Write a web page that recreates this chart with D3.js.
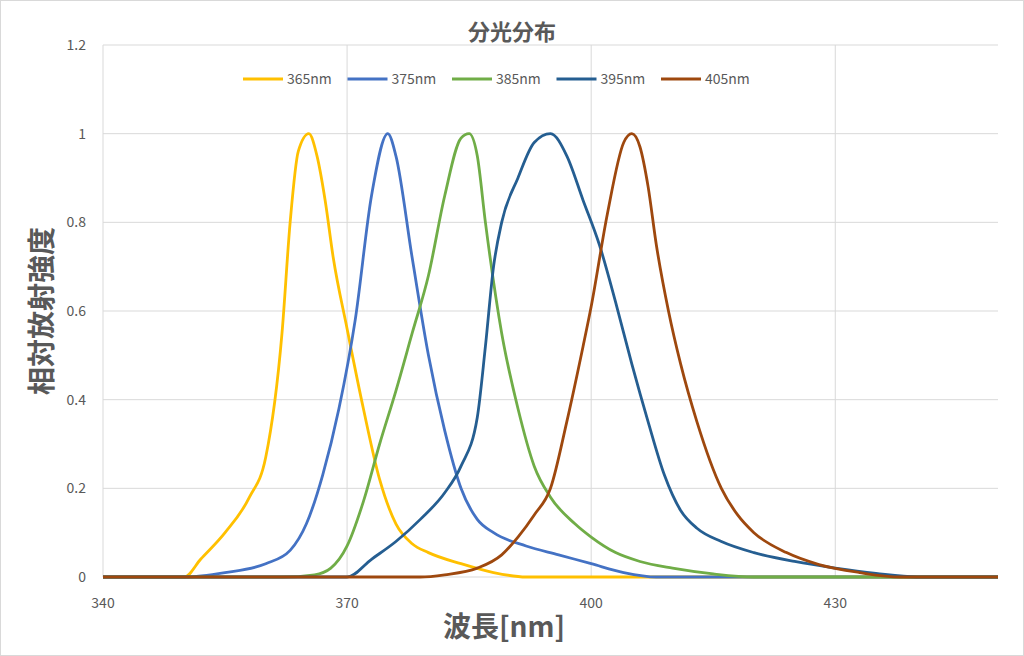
<!DOCTYPE html>
<html><head><meta charset="utf-8">
<script src="https://cdn.jsdelivr.net/npm/d3@7"></script>
<style>body{margin:0;background:#fff}text{font-family:"Noto Sans CJK JP","Noto Sans",sans-serif}</style>
</head><body><svg id="c" width="1024" height="656"></svg>
<script>
var seriesNames = ['365nm','375nm','385nm','395nm','405nm'];
var colors = ['#FFC000','#4472C4','#70AD47','#255E91','#9E480E'];
var s365 = [[340,0],[350,0],[352,0.04],[355,0.1],[358,0.18],[360,0.27],[362,0.55],[363,0.8],[364,0.96],[365.3,1.0],[366.3,0.95],[367.3,0.85],[368.3,0.72],[370,0.56],[372,0.38],[374,0.22],[376,0.12],[378,0.075],[380,0.055],[384,0.03],[388,0.01],[392,0],[450,0]];
var s375 = [[340,0],[350,0],[355,0.01],[360,0.03],[363,0.06],[365,0.12],[367,0.23],[369,0.38],[371,0.58],[373,0.86],[375,1.0],[376,0.95],[378,0.72],[380,0.5],[382,0.33],[384,0.2],[386,0.13],[388,0.1],[392,0.07],[396,0.05],[400,0.03],[404,0.01],[408,0],[450,0]];
var s385 = [[340,0],[362,0],[366,0.005],[368,0.02],[370,0.07],[372,0.17],[374,0.3],[376,0.42],[378,0.55],[380,0.68],[382,0.86],[384,0.99],[385,1.0],[386,0.95],[387,0.8],[389,0.55],[391,0.38],[393,0.25],[395,0.18],[398,0.12],[400,0.09],[403,0.055],[406,0.035],[410,0.02],[415,0.007],[420,0],[450,0]];
var s395 = [[340,0],[370,0],[373,0.04],[376,0.08],[379,0.13],[382,0.19],[384,0.25],[386,0.36],[387,0.52],[388,0.7],[389,0.8],[391,0.9],[393,0.98],[395,1.0],[397,0.95],[399,0.85],[401,0.75],[403,0.62],[405,0.48],[407,0.35],[409,0.23],[411,0.15],[413,0.11],[416,0.08],[420,0.055],[425,0.035],[430,0.02],[435,0.008],[440,0],[450,0]];
var s405 = [[340,0],[379,0],[382,0.005],[386,0.02],[389,0.05],[391,0.09],[393,0.14],[395,0.2],[397,0.35],[399,0.52],[400,0.61],[402,0.82],[404,0.98],[405,1.0],[406,0.97],[407,0.88],[408,0.75],[409.5,0.6],[411,0.48],[413,0.35],[416,0.2],[418,0.14],[420,0.1],[424,0.055],[428,0.028],[433,0.01],[438,0],[450,0]];
var allSeries = [s365,s375,s385,s395,s405];
var xTicks = [340,370,400,430];
var yTicks = [0,0.2,0.4,0.6,0.8,1,1.2];

var svg = d3.select('#c');
svg.append('rect').attr('x',0.5).attr('y',0.5).attr('width',1023).attr('height',655).attr('fill','#fff').attr('stroke','#d9d9d9');
var x = d3.scaleLinear().domain([340,450]).range([103,998]);
var y = d3.scaleLinear().domain([0,1.2]).range([577,45]);

svg.selectAll('.hg').data(yTicks.slice(1)).enter().append('line')
  .attr('x1',103).attr('x2',998).attr('y1',d=>y(d)).attr('y2',d=>y(d)).attr('stroke','#d9d9d9');
svg.selectAll('.vg').data(xTicks).enter().append('line')
  .attr('y1',45).attr('y2',577).attr('x1',d=>x(d)).attr('x2',d=>x(d)).attr('stroke','#d9d9d9');
svg.append('line').attr('x1',103).attr('x2',998).attr('y1',577).attr('y2',577).attr('stroke','#d9d9d9');

svg.selectAll('.yl').data(yTicks).enter().append('text')
  .attr('x',86).attr('y',d=>y(d)+5).attr('text-anchor','end').attr('font-size',14).attr('fill','#595959').text(d=>d);
svg.selectAll('.xl').data(xTicks).enter().append('text')
  .attr('x',d=>x(d)).attr('y',608).attr('text-anchor','middle').attr('font-size',14).attr('fill','#595959').text(d=>d);

var line = d3.line().x(d=>x(d[0])).y(d=>y(d[1])).curve(d3.curveMonotoneX);
allSeries.forEach(function(s,i){
  svg.append('path').attr('d',line(s)).attr('fill','none').attr('stroke',colors[i]).attr('stroke-width',2.8);
});

svg.append('text').attr('x',512).attr('y',40).attr('text-anchor','middle').attr('font-size',22).attr('font-weight','bold').attr('fill','#595959').text('分光分布');
svg.append('text').attr('x',504).attr('y',637).attr('text-anchor','middle').attr('font-size',28).attr('font-weight','bold').attr('fill','#595959').text('波長[nm]');
svg.append('text').attr('transform','translate(52,311) rotate(-90)').attr('text-anchor','middle').attr('font-size',28).attr('font-weight','bold').attr('fill','#595959').text('相対放射強度');

var lg = svg.selectAll('.lg').data(seriesNames).enter().append('g')
  .attr('transform',(d,i)=>'translate('+(243+i*104.5)+',79)');
lg.append('line').attr('x1',0).attr('x2',40).attr('stroke',(d,i)=>colors[i]).attr('stroke-width',2.8);
lg.append('text').attr('x',44).attr('y',5).attr('font-size',14).attr('fill','#595959').text(d=>d);
</script></body></html>
